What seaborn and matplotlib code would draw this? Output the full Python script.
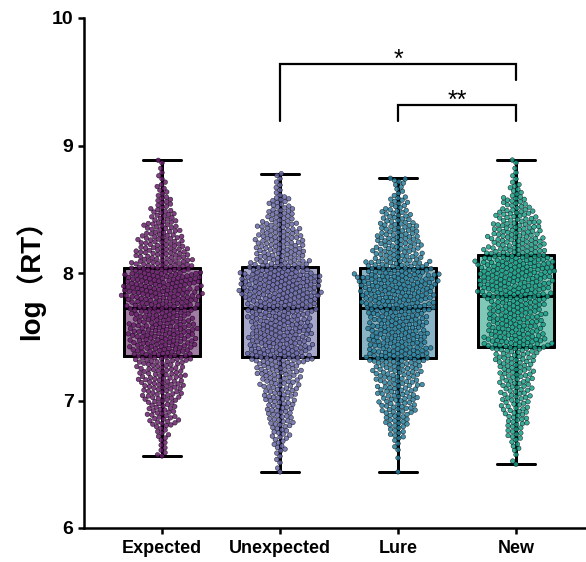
import numpy as np
import pandas as pd
import matplotlib
matplotlib.use("Agg")
import matplotlib.pyplot as plt
import seaborn as sns

# ---------------- data ----------------
categories = ["Expected", "Unexpected", "Lure", "New"]
# whisker ends (min / max of each group)
group_min = [6.565, 6.44, 6.44, 6.50]
group_max = [8.884, 8.779, 8.743, 8.886]
# estimated point counts in 0.1-wide bins, from each group's minimum up to its maximum
expected_counts = [2, 5, 8, 18, 18, 24, 28, 28, 36, 40, 42, 37, 44, 50, 50, 40, 34, 28, 22, 16, 11, 7, 4, 2]
unexpected_counts = [1, 4, 8, 12, 16, 18, 21, 24, 29, 40, 38, 38, 38, 44, 50, 51, 38, 32, 30, 26, 18, 14, 5, 3]
lure_counts = [0, 1, 4, 10, 16, 22, 24, 26, 30, 40, 36, 36, 36, 44, 46, 50, 40, 30, 28, 24, 18, 12, 6, 4]
new_counts = [2, 6, 10, 14, 16, 18, 20, 22, 26, 40, 34, 34, 34, 44, 46, 48, 40, 34, 30, 24, 16, 8, 4, 2]
all_counts = [expected_counts, unexpected_counts, lure_counts, new_counts]

y_ticks = [6, 7, 8, 9, 10]
y_label = "log（RT）"
sig_labels = ["*", "**"]
sig_pairs = [(1, 3), (2, 3)]

point_colors = ["#6b1d6e", "#6868a9", "#27809f", "#17a08a"]
box_colors = ["#a37ca4", "#a7a7cb", "#89b4c5", "#80c9b9"]


def expand(lo, hi, counts):
    grid = [round(v, 1) for v in np.arange(np.floor(lo * 10 + 1e-9) / 10 + 0.1, hi - 1e-9, 0.1)
            if v > lo + 1e-9]
    edges = [lo] + grid + [hi]
    assert len(edges) - 1 == len(counts)
    vals = [lo, hi]
    for a, b, c in zip(edges[:-1], edges[1:], counts):
        vals += [a + (b - a) * (i + 0.5) / c for i in range(c)]
    return vals


rows = []
for cat, lo, hi, cnt in zip(categories, group_min, group_max, all_counts):
    for v in expand(lo, hi, cnt):
        rows.append((cat, v))
df = pd.DataFrame(rows, columns=["cond", "logrt"])

# ---------------- style ----------------
sns.set_style("ticks")
plt.rcParams["font.family"] = ["Liberation Sans", "Noto Sans CJK SC", "DejaVu Sans"]
plt.rcParams["font.weight"] = "bold"
for k in ["text.color", "axes.labelcolor", "xtick.color", "ytick.color", "axes.edgecolor"]:
    plt.rcParams[k] = "black"

W, H = 586, 562
fig = plt.figure(figsize=(W / 100, H / 100), dpi=100)
ax = fig.add_axes([84 / W, 34 / H, 502 / W, 510 / H])

box_w = 0.65
sns.boxplot(data=df, x="cond", y="logrt", hue="cond", order=categories, hue_order=categories,
            palette=box_colors, saturation=1, width=box_w, whis=(0, 100), showfliers=False,
            linewidth=2, linecolor="black", legend=False, ax=ax)
n_before = len(ax.collections)
sns.swarmplot(data=df, x="cond", y="logrt", hue="cond", order=categories, hue_order=categories,
              palette=point_colors, size=2.85, linewidth=0.35, edgecolor=(0, 0, 0, 0.25),
              alpha=0.85, legend=False, ax=ax, warn_thresh=1)
swarm_colls = ax.collections[n_before:]
sns.boxplot(data=df, x="cond", y="logrt", order=categories, color="black", fill=False,
            width=box_w, whis=(0, 100), showfliers=False, linewidth=2, ax=ax)

ax.set_xlim(-0.661, 3.593)
ax.set_ylim(6, 10)
ax.set_yticks(y_ticks)
ax.set_yticklabels([str(t) for t in y_ticks], fontsize=14, fontweight="bold")
ax.set_xticks(range(len(categories)))
ax.set_xticklabels(categories, fontsize=13, fontweight="bold")
ax.set_xlabel("")
ax.set_ylabel(y_label, fontsize=20, fontweight="bold", labelpad=5)
ax.tick_params(axis="both", width=1.8, length=4.5, direction="out", color="black")
ax.tick_params(axis="y", pad=3)
ax.tick_params(axis="x", pad=4)
for s in ["top", "right"]:
    ax.spines[s].set_visible(False)
for s in ["left", "bottom"]:
    ax.spines[s].set_linewidth(1.8)
    ax.spines[s].set_color("black")

# significance brackets
bracket_geom = [(9.64, 9.195, 9.51, 9.62), (9.318, 9.195, 9.195, 9.294)]
for (x1, x2), lab, (ytop, yl, yr, ytxt) in zip(sig_pairs, sig_labels, bracket_geom):
    ax.plot([x1, x1, x2, x2], [yl, ytop, ytop, yr], color="black", lw=1.6,
            solid_joinstyle="miter", clip_on=False)
    ax.text((x1 + x2) / 2, ytxt, lab, ha="center", va="baseline", fontsize=18,
            fontweight="normal", color="black")

# let seaborn lay out the swarm with the small spacing, then freeze it and
# draw the dots a bit larger so that they overlap (Prism-like dot plot)
fig.canvas.draw()
for coll in swarm_colls:
    offs = coll.get_offsets().copy()
    if "draw" in coll.__dict__:
        del coll.__dict__["draw"]
    coll.set_offsets(offs)
    coll.set_sizes([3.3 ** 2])

fig.savefig("out.png", dpi=100)
